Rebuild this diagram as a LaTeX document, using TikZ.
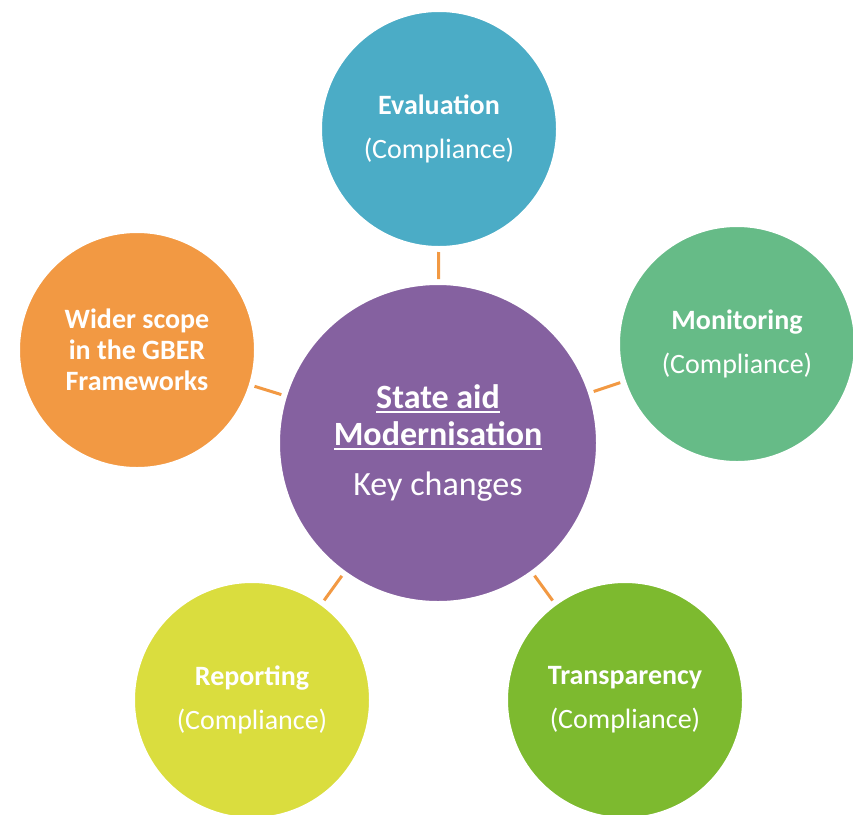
\documentclass[tikz,border=0pt]{standalone}
\usepackage{fontspec}
\setmainfont{Carlito}
\usetikzlibrary{shadows}
\definecolor{hubpurple}{HTML}{8561A0}
\definecolor{evalblue}{HTML}{4BACC6}
\definecolor{monigreen}{HTML}{66BB87}
\definecolor{scopeorange}{HTML}{F29943}
\definecolor{reportyellow}{HTML}{DADD3E}
\definecolor{transgreen}{HTML}{7DBA2F}
\definecolor{linkorange}{HTML}{F29943}
\newcommand{\thickul}[1]{\setbox0\hbox{#1}\rlap{\copy0}\rule[-4.5pt]{\wd0}{1.8pt}}
\begin{document}
\begin{tikzpicture}[x=1pt,y=-1pt,
    spoke/.style={circle,draw=white,line width=6pt,minimum size=240pt,inner sep=0pt,
        text=white,align=center,font=\fontsize{28}{31}\selectfont,
        drop shadow={opacity=0.18,shadow xshift=1pt,shadow yshift=-1.5pt}},
    hub/.style={spoke,minimum size=322pt,font=\fontsize{34}{37}\selectfont},
    link/.style={draw=linkorange,line width=3pt}]
    \useasboundingbox (0,0) rectangle (853,814);
    \clip (0,0) rectangle (853,814);
    \node[hub,fill=hubpurple] (hub) at (438,443)
        {\textbf{\thickul{State aid}}\\\textbf{\thickul{Modernisation}}\\[13pt]Key changes};
    \node[spoke,fill=evalblue] (evaluation) at (439,129)
        {\textbf{Evaluation}\\[13pt](Compliance)};
    \node[spoke,fill=monigreen] (monitoring) at (737,344)
        {\textbf{Monitoring}\\[13pt](Compliance)};
    \node[spoke,fill=scopeorange] (scope) at (137,350)
        {\textbf{Wider scope}\\\textbf{in the GBER}\\\textbf{Frameworks}};
    \node[spoke,fill=reportyellow] (reporting) at (252,700)
        {\textbf{Reporting}\\[13pt](Compliance)};
    \node[spoke,fill=transgreen] (transparency) at (625,700)
        {\textbf{Transparency}\\[13pt](Compliance)};
    \draw[link] (hub) -- (evaluation);
    \draw[link] (hub) -- (monitoring);
    \draw[link] (hub) -- (scope);
    \draw[link] (hub) -- (reporting);
    \draw[link] (hub) -- (transparency);
\end{tikzpicture}
\end{document}
